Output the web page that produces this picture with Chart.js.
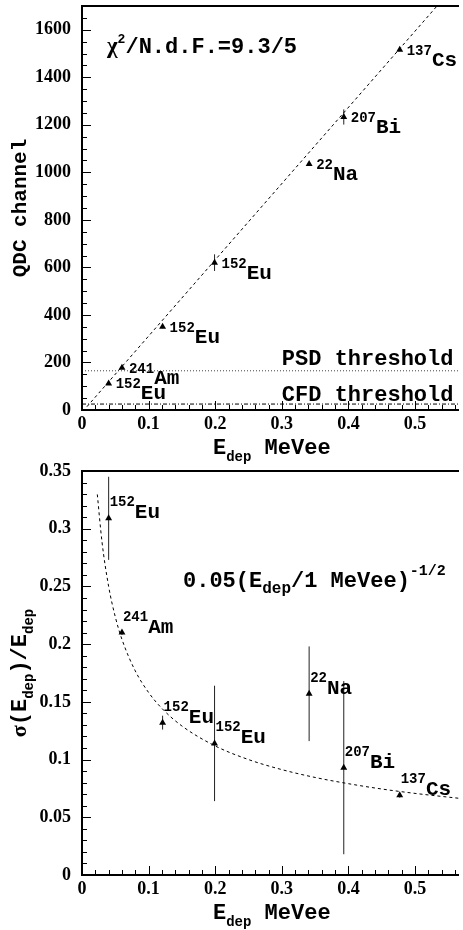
<!DOCTYPE html>
<html>
<head>
<meta charset="utf-8">
<script src="https://cdn.jsdelivr.net/npm/chart.js@4.4.1/dist/chart.umd.min.js"></script>
<style>
html, body { margin: 0; padding: 0; background: #fff; }
#wrap { position: relative; width: 463px; height: 930px; }
canvas { display: block; position: absolute; left: 0; }
#qdcChart { top: 0; }
#resChart { top: 445px; }
</style>
</head>
<body>
<div id="wrap">
<canvas id="qdcChart" width="463" height="465"></canvas>
<canvas id="resChart" width="463" height="485"></canvas>
</div>
<script>
// calibration sources
const isoMass = ['152', '241', '152', '152', '22', '207', '137'];
const isoName = ['Eu', 'Am', 'Eu', 'Eu', 'Na', 'Bi', 'Cs'];
const energy = [0.040, 0.060, 0.121, 0.199, 0.341, 0.393, 0.477]; // MeVee

// top panel: QDC channel vs deposited energy
const qdcValue = [112, 178, 350, 620, 1035, 1233, 1516];
const qdcError = [4, 4, 6, 35, 8, 32, 6];

// bottom panel: relative resolution
const resValue = [0.309, 0.210, 0.132, 0.114, 0.157, 0.093, 0.069];
const resError = [0.036, 0.002, 0.006, 0.050, 0.041, 0.075, 0.002];

// linear fit (end points)
const fitLineE = [0.0074, 0.533];
const fitLineQ = [14, 1700];

// resolution fit 0.05 (E/1 MeVee)^-1/2, sampled
const fitCurveE = [0.023, 0.03, 0.04, 0.05, 0.06, 0.08, 0.10, 0.12, 0.15, 0.20, 0.25, 0.30, 0.35, 0.40, 0.45, 0.50, 0.57];
const fitCurveRes = [0.3297, 0.2887, 0.2500, 0.2236, 0.2041, 0.1768, 0.1581, 0.1443, 0.1291, 0.1118, 0.1000, 0.0913, 0.0845, 0.0791, 0.0745, 0.0707, 0.0662];

const psdThreshold = 165;
const cfdThreshold = 25;

// axes
const xMax = 0.566;
const xTicks = [0, 0.1, 0.2, 0.3, 0.4, 0.5];
const xMinorStep = 0.02;
const qdcMax = 1700;
const qdcTicks = [0, 200, 400, 600, 800, 1000, 1200, 1400, 1600];
const qdcMinorStep = 50;
const resMax = 0.35;
const resTicks = [0, 0.05, 0.1, 0.15, 0.2, 0.25, 0.3, 0.35];
const resMinorStep = 0.01;

const MONO = '"Liberation Mono", "Courier New", monospace';
const SERIF = '"Liberation Serif", "Times New Roman", serif';

function fmt(v) { return String(+v.toFixed(2)); }

// draws a run of text pieces: [text, size, baseline shift, family]
function richWidth(ctx, parts) {
    let w = 0;
    parts.forEach(([text, size, shift, family]) => {
        ctx.font = 'bold ' + size + 'px ' + (family || MONO);
        w += ctx.measureText(text).width;
    });
    return w;
}
function drawRich(ctx, x, y, parts) {
    let cx = x;
    parts.forEach(([text, size, shift, family]) => {
        ctx.font = 'bold ' + size + 'px ' + (family || MONO);
        ctx.fillText(text, cx, y + (shift || 0));
        cx += ctx.measureText(text).width;
    });
    return cx;
}

function decorPlugin(cfg) {
    return {
        id: 'decor',
        beforeDatasetsDraw(chart) {
            const { ctx, scales: { x, y } } = chart;
            ctx.save();
            ctx.strokeStyle = '#222';
            ctx.lineWidth = 1;
            energy.forEach((e, i) => {
                const px = x.getPixelForValue(e);
                ctx.beginPath();
                ctx.moveTo(px, y.getPixelForValue(cfg.values[i] - cfg.errors[i]));
                ctx.lineTo(px, y.getPixelForValue(cfg.values[i] + cfg.errors[i]));
                ctx.stroke();
            });
            ctx.restore();
        },
        afterDraw(chart) {
            const { ctx, chartArea: a, scales: { x, y } } = chart;
            ctx.save();
            ctx.fillStyle = '#000';
            ctx.strokeStyle = '#000';

            // frame
            ctx.lineWidth = 2;
            ctx.beginPath();
            ctx.moveTo(a.right, a.top);
            ctx.lineTo(a.left, a.top);
            ctx.lineTo(a.left, a.bottom);
            ctx.lineTo(a.right, a.bottom);
            ctx.stroke();

            // ticks
            ctx.lineWidth = 1;
            for (let i = 0; i * xMinorStep <= xMax + 1e-9; i++) {
                const v = i * xMinorStep;
                const major = xTicks.some(t => Math.abs(t - v) < 1e-6);
                const px = Math.round(x.getPixelForValue(v)) + 0.5;
                ctx.beginPath();
                ctx.moveTo(px, a.bottom);
                ctx.lineTo(px, a.bottom - (major ? 9 : 5));
                ctx.stroke();
            }
            for (let i = 0; i * cfg.minorStep <= cfg.yMax + 1e-9; i++) {
                const v = i * cfg.minorStep;
                const major = cfg.ticks.some(t => Math.abs(t - v) < 1e-6);
                const py = Math.round(y.getPixelForValue(v)) + 0.5;
                ctx.beginPath();
                ctx.moveTo(a.left, py);
                ctx.lineTo(a.left + (major ? 9 : 5), py);
                ctx.stroke();
            }

            // point labels
            ctx.textAlign = 'left';
            ctx.textBaseline = 'alphabetic';
            energy.forEach((e, i) => {
                const px = x.getPixelForValue(e) + cfg.labelDx;
                const py = y.getPixelForValue(cfg.values[i]) + cfg.labelDy;
                drawRich(ctx, px, py, [[isoMass[i], 14, cfg.supShift], [isoName[i], 21, 0]]);
            });

            // x title
            drawRich(ctx, a.left + 131, a.bottom + 44, [['E', 22, 0], ['dep', 14, 7], [' MeVee', 22, 0]]);

            // y title (rotated)
            const cy = (a.top + a.bottom) / 2;
            ctx.save();
            ctx.translate(26, cy);
            ctx.rotate(-Math.PI / 2);
            const w = richWidth(ctx, cfg.yTitle);
            drawRich(ctx, -w / 2, 0, cfg.yTitle);
            ctx.restore();

            cfg.extra(ctx, a, x, y);
            ctx.restore();
        }
    };
}

function makeChart(id, datasets, cfg) {
    return new Chart(document.getElementById(id), {
        type: 'scatter',
        data: { datasets: datasets },
        options: {
            responsive: false,
            animation: false,
            devicePixelRatio: 1,
            layout: { padding: { top: cfg.padTop, left: 0, right: 0, bottom: 0 } },
            plugins: { legend: { display: false }, tooltip: { enabled: false } },
            scales: {
                x: {
                    type: 'linear', min: 0, max: xMax,
                    grid: { display: false, drawTicks: false, tickLength: 0 },
                    border: { display: false },
                    afterBuildTicks: s => { s.ticks = xTicks.map(v => ({ value: v })); },
                    afterFit: s => { s.height = 55; s.paddingLeft = 0; s.paddingRight = 0; },
                    ticks: {
                        color: '#000', padding: 4, maxRotation: 0, autoSkip: false,
                        font: { family: SERIF, size: 18, weight: 'bold' },
                        callback: v => fmt(v)
                    }
                },
                y: {
                    type: 'linear', min: 0, max: cfg.yMax,
                    grid: { display: false, drawTicks: false, tickLength: 0 },
                    border: { display: false },
                    afterBuildTicks: s => { s.ticks = cfg.ticks.map(v => ({ value: v })); },
                    afterFit: s => { s.width = 82; s.paddingTop = 0; s.paddingBottom = 0; },
                    ticks: {
                        color: '#000', padding: 11, autoSkip: false,
                        font: { family: SERIF, size: 18, weight: 'bold' },
                        callback: v => fmt(v)
                    }
                }
            }
        },
        plugins: [decorPlugin(cfg)]
    });
}

const markerStyle = {
    showLine: false, pointStyle: 'triangle', pointRadius: 4,
    backgroundColor: '#000', borderColor: '#000', borderWidth: 0
};

// top panel
makeChart('qdcChart', [
    Object.assign({ data: energy.map((e, i) => ({ x: e, y: qdcValue[i] })) }, markerStyle),
    { data: fitLineE.map((e, i) => ({ x: e, y: fitLineQ[i] })), showLine: true, pointRadius: 0,
      borderColor: '#000', borderWidth: 1, borderDash: [3, 3] },
    { data: [{ x: 0, y: psdThreshold }, { x: xMax, y: psdThreshold }], showLine: true, pointRadius: 0,
      borderColor: '#444', borderWidth: 1, borderDash: [1, 2] },
    { data: [{ x: 0, y: cfdThreshold }, { x: xMax, y: cfdThreshold }], showLine: true, pointRadius: 0,
      borderColor: '#000', borderWidth: 1, borderDash: [4, 2, 1, 2] }
], {
    padTop: 6,
    yMax: qdcMax, ticks: qdcTicks, minorStep: qdcMinorStep,
    values: qdcValue, errors: qdcError,
    labelDx: 7, labelDy: 16, supShift: -11,
    yTitle: [['QDC channel', 21, 0]],
    extra: (ctx, a, x, y) => {
        drawRich(ctx, a.left + 25, a.top + 47, [['\u03c7', 23, 0, SERIF], ['2', 13, -10], ['/N.d.F.=9.3/5', 22, 0]]);
        const tx = x.getPixelForValue(0.3);
        drawRich(ctx, tx, y.getPixelForValue(psdThreshold) - 6, [['PSD threshold', 22, 0]]);
        drawRich(ctx, tx, y.getPixelForValue(cfdThreshold) - 3, [['CFD threshold', 22, 0]]);
    }
});

// bottom panel
makeChart('resChart', [
    Object.assign({ data: energy.map((e, i) => ({ x: e, y: resValue[i] })) }, markerStyle),
    { data: fitCurveE.map((e, i) => ({ x: e, y: fitCurveRes[i] })), showLine: true, pointRadius: 0,
      borderColor: '#000', borderWidth: 1, borderDash: [3, 3], cubicInterpolationMode: 'monotone' }
], {
    padTop: 26,
    yMax: resMax, ticks: resTicks, minorStep: resMinorStep,
    values: resValue, errors: resError,
    labelDx: 1, labelDy: 0, supShift: -12,
    yTitle: [['\u03c3', 22, 0, SERIF], ['(E', 22, 0], ['dep', 14, 7], [')/E', 22, 0], ['dep', 14, 7]],
    extra: (ctx, a) => {
        drawRich(ctx, a.left + 101, a.top + 116, [['0.05(E', 22, 0], ['dep', 16, 6], ['/1 MeVee)', 22, 0], ['-1/2', 15, -12]]);
    }
});
</script>
</body>
</html>
